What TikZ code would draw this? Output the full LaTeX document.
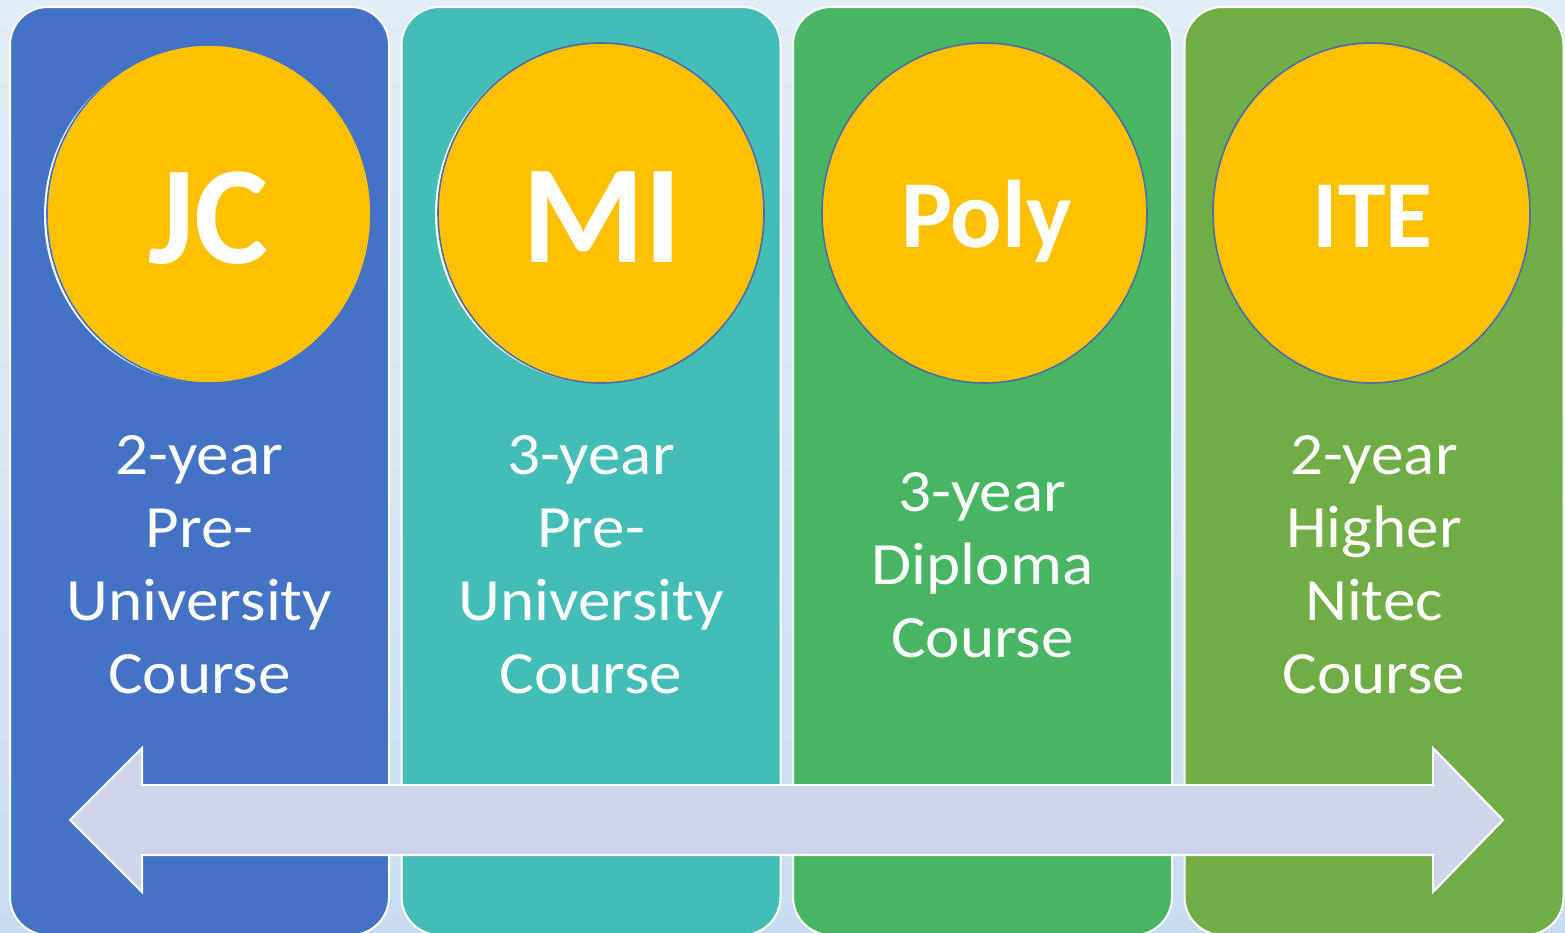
\documentclass[tikz,border=0pt]{standalone}
\usepackage{fontspec}
\setmainfont{Carlito}
\newfontfamily\coursefont[FakeStretch=1.085]{Carlito}
\usepackage{xcolor}
\usepackage{tikz}
\usetikzlibrary{shapes,arrows,positioning,calc}
\definecolor{bgtop}{HTML}{E3EDF7}
\definecolor{bgbot}{HTML}{C8DCF0}
\definecolor{jcblue}{HTML}{4472C4}
\definecolor{miteal}{HTML}{45BDB7}
\definecolor{polygreen}{HTML}{48B563}
\definecolor{itegreen}{HTML}{70AD47}
\definecolor{gold}{HTML}{FFC000}
\definecolor{rim}{HTML}{4A6EA9}
\definecolor{arrowfill}{HTML}{CFD5EA}
\tikzstyle{column} = [rectangle, rounded corners=38pt, draw=white, line width=2pt, minimum width=379pt, minimum height=928pt, inner sep=0pt]

\begin{document}
\begin{tikzpicture}[x=1pt,y=-1pt]
    \tikzstyle{badge} = [ellipse, fill=gold, draw=rim, line width=1.6pt, inner sep=0pt]
    \tikzstyle{glow} = [ellipse, fill=white, inner sep=0pt]
    \tikzstyle{tag} = [anchor=base, text=white, font=\bfseries]
    \tikzstyle{course} = [align=center, text=white, font=\coursefont\fontsize{60}{73}\selectfont]
    \useasboundingbox (0,0) rectangle (1565,932);
    \shade[top color=bgtop, bottom color=bgbot] (0,0) rectangle (1565,932);
    % columns
    \node[column, fill=jcblue] (jccol) at (199.5,471) {};
    \node[column, fill=miteal] (micol) at (591,471) {};
    \node[column, fill=polygreen] (polycol) at (982.5,471) {};
    \node[column, fill=itegreen] (itecol) at (1374,471) {};
    % badges
    \node[glow, minimum width=324pt, minimum height=336pt] at (206,215) {};
    \node[glow, minimum width=326pt, minimum height=338pt] at (598,214) {};
    \node[badge, draw=jcblue, minimum width=324pt, minimum height=338pt] (jc) at (209,214) {};
    \node[badge, minimum width=326pt, minimum height=340pt] (mi) at (601,213) {};
    \node[badge, minimum width=325pt, minimum height=340pt] (poly) at (984.5,213) {};
    \node[badge, minimum width=317pt, minimum height=340pt] (ite) at (1371.5,213) {};
    \node[tag, font=\bfseries\fontsize{140}{150}\selectfont] (jclbl) at (208.5,263) {JC};
    \node[tag, font=\bfseries\fontsize{140}{150}\selectfont] (milbl) at (602,262) {MI};
    \node[tag, font=\bfseries\fontsize{96}{110}\selectfont] (polylbl) at (986.5,247) {Poly};
    \node[tag, font=\bfseries\fontsize{96}{110}\selectfont] (itelbl) at (1372.5,247) {ITE};
    % course texts
    \node[course] (jctxt) at (199.5,565) {2-year\\Pre-\\University\\Course};
    \node[course] (mitxt) at (591,565) {3-year\\Pre-\\University\\Course};
    \node[course] (polytxt) at (982.5,565) {3-year\\Diploma\\Course};
    \node[course] (itetxt) at (1374,565) {2-year\\Higher\\Nitec\\Course};
    % double arrow
    \draw[fill=arrowfill, draw=white, line width=2pt, line join=miter]
        (70,820) -- (142,748) -- (142,785) -- (1433,785) -- (1433,748) -- (1503,820)
        -- (1433,892) -- (1433,855) -- (142,855) -- (142,892) -- cycle;
\end{tikzpicture}
\end{document}
